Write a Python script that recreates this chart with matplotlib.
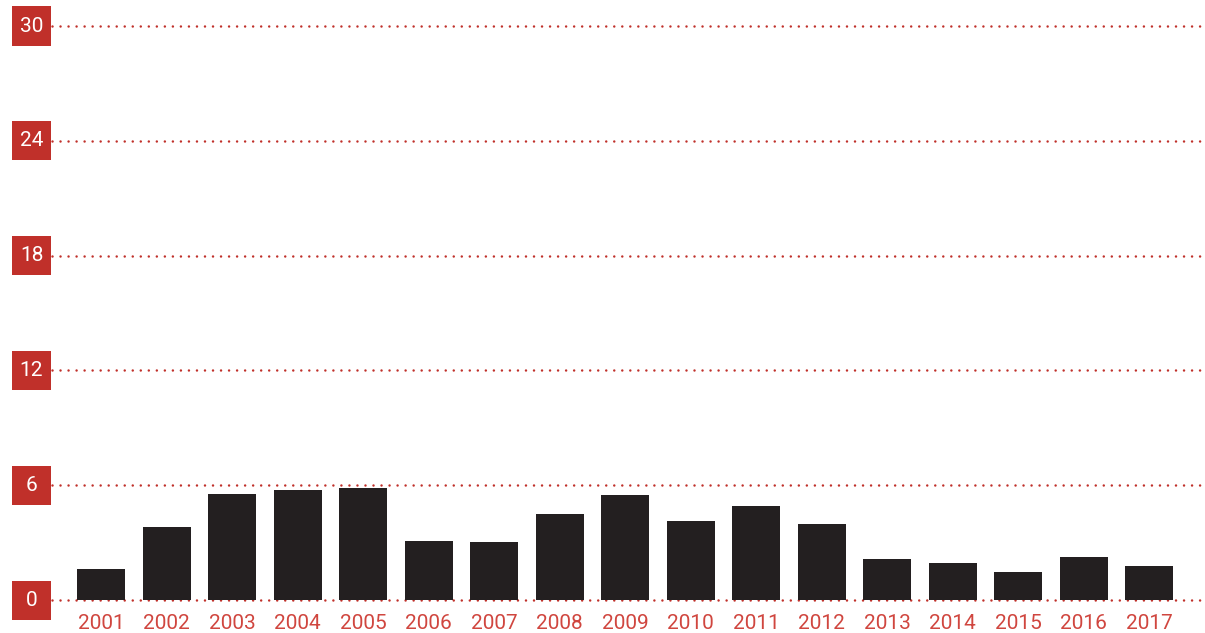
import matplotlib
matplotlib.use('Agg')
import matplotlib.pyplot as plt
import matplotlib.transforms as mtransforms
from matplotlib.patches import Rectangle
import numpy as np

years = ['2001', '2002', '2003', '2004', '2005', '2006', '2007', '2008', '2009',
         '2010', '2011', '2012', '2013', '2014', '2015', '2016', '2017']
values = [1.62, 3.82, 5.54, 5.75, 5.85, 3.08, 3.03, 4.5, 5.49,
          4.13, 4.91, 3.97, 2.14, 1.93, 1.46, 2.25, 1.78]
y_ticks = [0, 6, 12, 18, 24, 30]

RED = '#C0302A'
LABEL_RED = '#D0463F'
BAR = '#231F20'


def main():
    plt.rcParams['font.family'] = ['Roboto', 'DejaVu Sans']
    W, H = 1205, 633
    fig = plt.figure(figsize=(W / 100, H / 100), dpi=100)
    ax = fig.add_axes([52 / W, 33 / H, 1 - 52 / W, 574 / H])

    x = np.arange(len(years))
    ax.bar(x, values, width=0.73, color=BAR, zorder=3)

    for v in y_ticks:
        ax.axhline(v, color=RED, lw=1.8, linestyle=(0, (0.01, 3.2)),
                   dash_capstyle='round', zorder=1, clip_on=False)

    ax.set_xlim(-0.75, 16.85)
    ax.set_ylim(0, 30)
    ax.set_xticks(x)
    ax.set_xticklabels(years, color=LABEL_RED, fontsize=15)
    ax.tick_params(axis='x', length=0, pad=10)
    ax.set_yticks([])
    for s in ax.spines.values():
        s.set_visible(False)

    # red boxed y labels
    trans = mtransforms.blended_transform_factory(fig.transFigure, ax.transData)
    bh = 39 / (574 / 30)
    for v in y_ticks:
        ax.add_patch(Rectangle((12 / W, v - bh / 2), 39 / W, bh, transform=trans,
                               facecolor=RED, edgecolor='none', clip_on=False, zorder=4))
        ax.text(31.5 / W, v, str(v), transform=trans, ha='center', va='center',
                color='white', fontsize=15, zorder=5)

    fig.savefig('out.png', dpi=100)
    plt.close(fig)


if __name__ == '__main__':
    main()
